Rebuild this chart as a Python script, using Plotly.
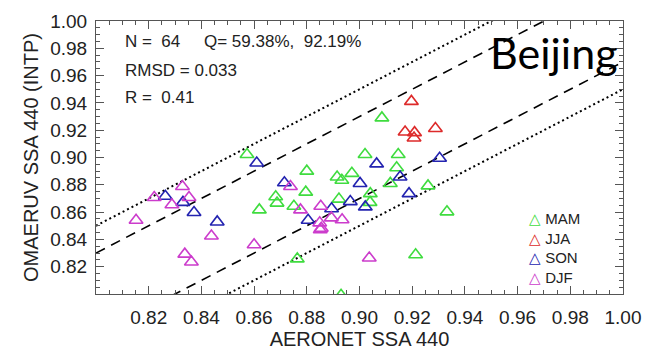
import plotly.graph_objects as go

# ---- data ----
mam_x = [0.8573, 0.8800, 0.8796, 0.8682, 0.8687, 0.8620, 0.8751, 0.8922, 0.8915, 0.8933,
         0.8971, 0.8764, 0.8930, 0.9085, 0.9021, 0.9147, 0.9141, 0.9117, 0.9260, 0.9041,
         0.9040, 0.9332, 0.9213]
mam_y = [0.9022, 0.8900, 0.8746, 0.8712, 0.8666, 0.8616, 0.8643, 0.8695, 0.8857, 0.8833,
         0.8884, 0.8257, 0.7990, 0.9290, 0.9022, 0.9022, 0.8925, 0.8810, 0.8792, 0.8735,
         0.8671, 0.8602, 0.8287]

jja_x = [0.9197, 0.9173, 0.9209, 0.9207, 0.9288]
jja_y = [0.9411, 0.9187, 0.9182, 0.9143, 0.9212]

son_x = [0.8610, 0.8263, 0.8330, 0.8372, 0.8715, 0.8894, 0.8965, 0.8460, 0.8805, 0.9065,
         0.9304, 0.9002, 0.9154, 0.9188, 0.9022]
son_y = [0.8960, 0.8716, 0.8671, 0.8597, 0.8815, 0.8624, 0.8677, 0.8528, 0.8540, 0.8953,
         0.8994, 0.8810, 0.8857, 0.8735, 0.8638]

djf_x = [0.8221, 0.8328, 0.8353, 0.8288, 0.8738, 0.8776, 0.8853, 0.8152, 0.8438, 0.8337,
         0.8362, 0.8600, 0.8849, 0.8855, 0.8851, 0.8893, 0.8934, 0.9037]
djf_y = [0.8707, 0.8788, 0.8707, 0.8654, 0.8788, 0.8616, 0.8643, 0.8540, 0.8425, 0.8292,
         0.8234, 0.8361, 0.8521, 0.8482, 0.8471, 0.8558, 0.8544, 0.8264]

seasons = ["MAM", "JJA", "SON", "DJF"]
season_colors = ["#3fdc3f", "#dd2a2a", "#2323b0", "#cc3ccc"]

axis_range = [0.80, 1.00]
tick_vals = [0.82, 0.84, 0.86, 0.88, 0.90, 0.92, 0.94, 0.96, 0.98, 1.00]
tick_text = ["0.82", "0.84", "0.86", "0.88", "0.90", "0.92", "0.94", "0.96", "0.98", "1.00"]

dashed_offsets = [0.03, -0.03]
dotted_offsets = [0.05, -0.05]

stats_line1a = "N =&nbsp;&nbsp;64"
stats_line1b = "Q= 59.38%,&nbsp;&nbsp;92.19%"
stats_line2 = "RMSD = 0.033"
stats_line3 = "R =&nbsp;&nbsp;0.41"
site_name = "Beijing"

FONT = "Liberation Sans, Arial, Helvetica, sans-serif"

fig = go.Figure()

# reference lines y = x + offset
for off in dashed_offsets:
    fig.add_trace(go.Scatter(x=axis_range, y=[v + off for v in axis_range], mode="lines",
                             line=dict(color="black", width=1.6, dash="10px,7px"),
                             showlegend=False, hoverinfo="skip"))
for off in dotted_offsets:
    fig.add_trace(go.Scatter(x=axis_range, y=[v + off for v in axis_range], mode="lines",
                             line=dict(color="black", width=2, dash="2px,3px"),
                             showlegend=False, hoverinfo="skip"))

series = [(mam_x, mam_y), (jja_x, jja_y), (son_x, son_y), (djf_x, djf_y)]
for (sx, sy), name, col in zip(series, seasons, season_colors):
    fig.add_trace(go.Scatter(x=sx, y=sy, mode="markers", name=name,
                             marker=dict(symbol="triangle-up-open", size=12, color=col,
                                         line=dict(width=1.6, color=col)),
                             showlegend=False))

axis_common = dict(range=axis_range, tickmode="array", tickvals=tick_vals, ticktext=tick_text,
                   ticks="inside", ticklen=8, tickwidth=1, tickcolor="#555",
                   showline=True, linecolor="#555", linewidth=1, mirror="allticks",
                   showgrid=False, zeroline=False,
                   tickfont=dict(family=FONT, size=19, color="#222"),
                   minor=dict(tickmode="linear", tick0=0.80, dtick=0.005, ticks="inside",
                              ticklen=4, tickcolor="#555", showgrid=False))

fig.update_xaxes(**axis_common, ticklabelstandoff=6,
                 title=dict(text="AERONET SSA 440", font=dict(family=FONT, size=20, color="#222"),
                            standoff=2))
fig.update_yaxes(**axis_common, ticklabelstandoff=4,
                 title=dict(text="OMAERUV SSA 440 (INTP)", font=dict(family=FONT, size=20, color="#222"),
                            standoff=6))

ann_font = dict(family=FONT, size=17, color="#222")
anns = [
    dict(x=0.051, y=0.924, text=stats_line1a),
    dict(x=0.2015, y=0.924, text=stats_line1b),
    dict(x=0.051, y=0.818, text=stats_line2),
    dict(x=0.051, y=0.718, text=stats_line3),
]
for a in anns:
    fig.add_annotation(xref="paper", yref="paper", xanchor="left", yanchor="middle",
                       showarrow=False, font=ann_font, **a)

fig.add_annotation(xref="paper", yref="paper", x=0.744, y=0.885, xanchor="left", yanchor="middle",
                   text=site_name, showarrow=False,
                   font=dict(family="Lato, Carlito, sans-serif", size=43, color="black"))

# legend (symbol + label) as one multi-line text block
legend_lines = [f"<span style='color:{col}'>△</span> {name}" for name, col in zip(seasons, season_colors)]
fig.add_annotation(xref="paper", yref="paper", x=0.818, y=0.168, xanchor="left", yanchor="middle",
                   align="left", text="<br>".join(legend_lines), showarrow=False,
                   font=dict(family=FONT, size=15, color="#222"))

fig.update_layout(width=652, height=355, margin=dict(l=96, r=25, t=11, b=53),
                  paper_bgcolor="white", plot_bgcolor="white", showlegend=False)

fig.write_html("out.html")
